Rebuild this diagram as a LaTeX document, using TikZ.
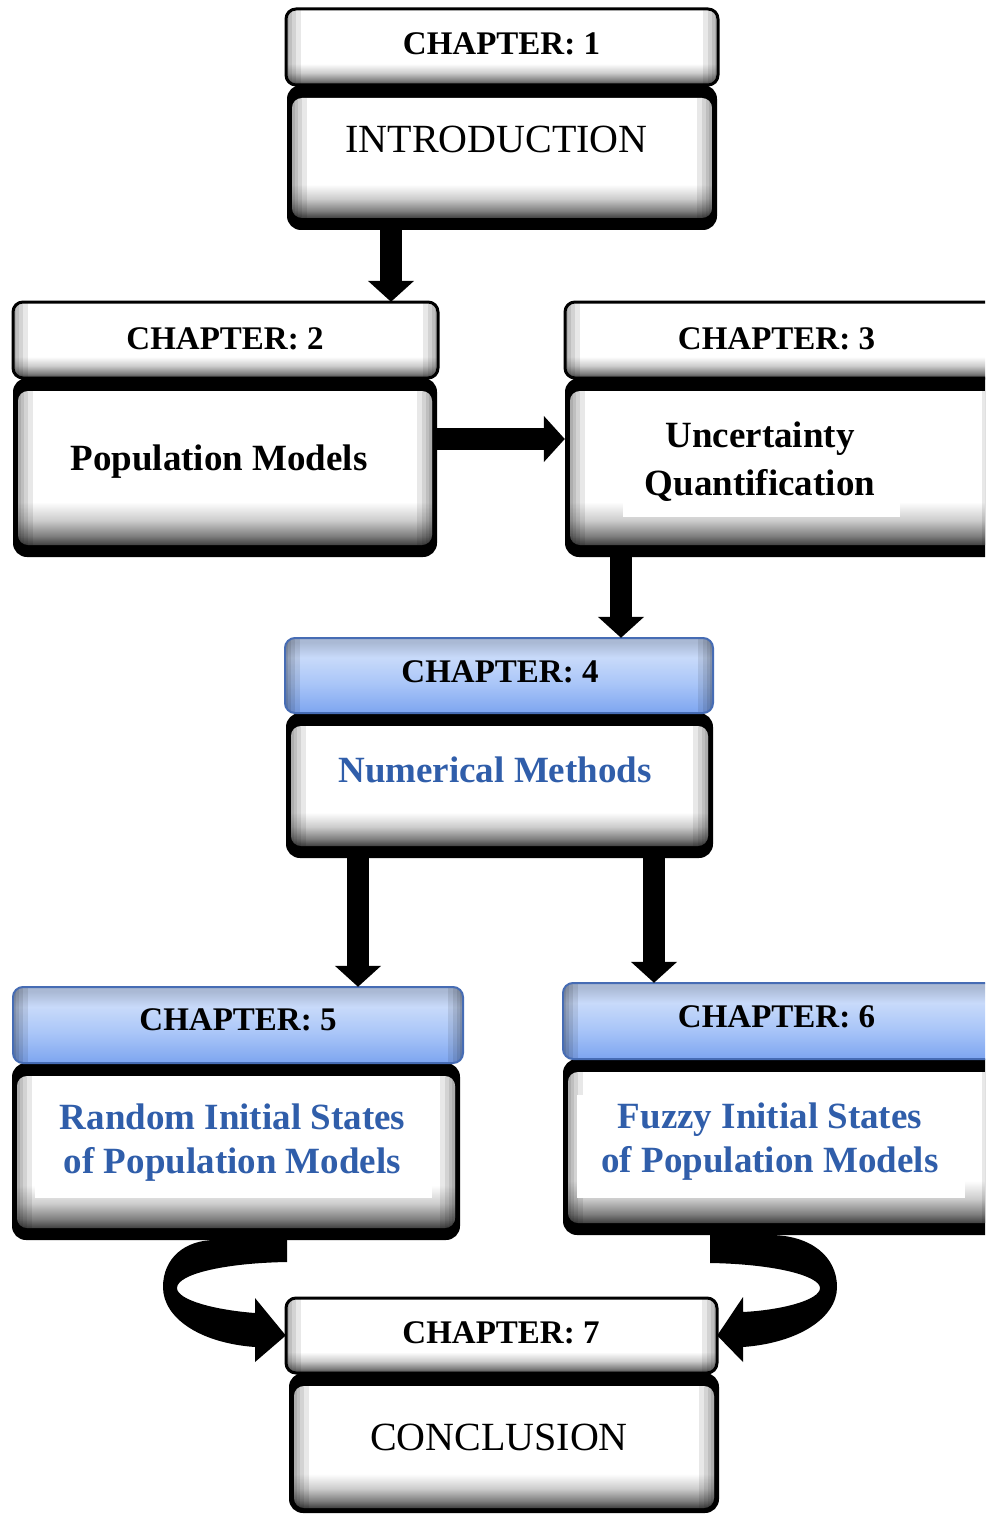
\documentclass[tikz,border=0pt]{standalone}
\usepackage{fontspec}
\setmainfont{Liberation Serif}
\usetikzlibrary{arrows.meta,fit}
\definecolor{bluetxt}{RGB}{48,94,170}
\definecolor{bluetop}{RGB}{200,218,250}
\definecolor{bluemid}{RGB}{170,198,248}
\definecolor{bluebot}{RGB}{125,165,240}
\definecolor{blueedge}{RGB}{70,108,180}
\pgfdeclareverticalshading{whiteshd}{100bp}{color(0bp)=(black!75); color(25bp)=(black!75); color(28bp)=(black!50); color(33bp)=(black!20); color(39bp)=(white); color(100bp)=(white)}
\pgfdeclareverticalshading{blueshd}{100bp}{color(0bp)=(bluebot); color(25bp)=(bluebot); color(45bp)=(bluemid); color(62bp)=(bluetop); color(72bp)=(bluetop!85!black); color(100bp)=(bluetop!85!black)}
\tikzset{
  chapfont/.style={font=\fontsize{33}{40}\selectfont\bfseries, anchor=base, inner sep=0pt},
  titlefont/.style={font=\fontsize{40}{48}\selectfont, anchor=base, inner sep=0pt},
  boldfont/.style={font=\fontsize{37}{48}\selectfont\bfseries, anchor=base, inner sep=0pt},
  bigarrow/.style={draw, line width=22pt, -{Triangle[width=45pt,length=21pt]}},
  boxfit/.style={inner sep=0pt, draw=none},
  edgestrip/.style={fill=black, opacity=.09},
}
\newcommand\SoftEdge[4]{%
  \begin{scope}
    \clip[rounded corners=10pt] (#1,#2) rectangle (#3,#4);
    \foreach \w in {3,6,10,15} {
      \path[edgestrip] (#1,#2) rectangle (#1+\w,#4);
      \path[edgestrip] (#3-\w,#2) rectangle (#3,#4);
    }
  \end{scope}}
\newcommand\WhiteHead[5]{%
  \shade[shading=whiteshd, rounded corners=10pt] (#2,#3) rectangle (#4,#5);
  \SoftEdge{#2}{#3}{#4}{#5}%
  \draw[line width=3pt, rounded corners=10pt] (#2,#3) rectangle (#4,#5);
  \node[boxfit, fit={(#2,#3) (#4,#5)}] (#1) {};}
\newcommand\BlueHead[5]{%
  \shade[shading=blueshd, rounded corners=10pt] (#2,#3) rectangle (#4,#5);
  \SoftEdge{#2}{#3}{#4}{#5}%
  \draw[blueedge, line width=2pt, rounded corners=10pt] (#2,#3) rectangle (#4,#5);
  \node[boxfit, fit={(#2,#3) (#4,#5)}] (#1) {};}
\newcommand\BodyBox[6][12]{%
  \fill[rounded corners=14pt] (#3,#4) rectangle (#5,#6);
  \shade[shading=whiteshd, rounded corners=10pt] (#3+5,#4+13) rectangle (#5-5,#6-#1);
  \SoftEdge{#3+5}{#4+13}{#5-5}{#6-#1}%
  \node[boxfit, fit={(#3,#4) (#5,#6)}] (#2) {};}
\begin{document}
\begin{tikzpicture}[x=1pt,y=-1pt]
\useasboundingbox (0,0) rectangle (985,1514);
\clip (0,0) rectangle (985,1514);
\fill[white] (0,0) rectangle (985,1514);

% Chapter 1
\BodyBox{b1}{287}{85}{717}{230}
\WhiteHead{h1}{286}{9}{718}{85}
\node[chapfont] (t1) at (501.5,55) {CHAPTER: 1};
\node[titlefont] (x1) at (496.5,153) {INTRODUCTION};

% Chapter 2
\BodyBox{b2}{13}{378}{437}{557}
\WhiteHead{h2}{13}{302}{438}{378}
\node[chapfont] (t2) at (225,349) {CHAPTER: 2};
\node[boldfont] (x2) at (219,470) {Population Models};

% Chapter 3
\BodyBox{b3}{565}{378}{1002}{557}
\WhiteHead{h3}{565}{302}{1002}{378}
\fill[white] (623,405) rectangle (900,517);
\node[chapfont] (t3) at (776.5,349) {CHAPTER: 3};
\node[boldfont] (x3) at (760,447) {\begin{tabular}[t]{@{}c@{}}Uncertainty\\Quantification\end{tabular}};

% Chapter 4
\BodyBox{b4}{286}{713}{713}{858}
\BlueHead{h4}{285}{638}{713}{713}
\node[chapfont] (t4) at (500,682) {CHAPTER: 4};
\node[boldfont, text=bluetxt] (x4) at (495,782) {Numerical Methods};

% Chapter 5
\BodyBox{b5}{12}{1063}{460}{1240}
\BlueHead{h5}{13}{987}{463}{1063}
\fill[white] (35,1095) rectangle (432,1198);
\node[chapfont] (t5) at (238,1030) {CHAPTER: 5};
\node[boldfont, text=bluetxt, font=\fontsize{37}{44}\selectfont\bfseries] (x5) at (232.5,1129) {\begin{tabular}[t]{@{}c@{}}Random Initial States\\of Population Models\end{tabular}};

% Chapter 6
\BodyBox{b6}{563}{1059}{1002}{1235}
\BlueHead{h6}{563}{983}{1002}{1059}
\fill[white] (577,1095) rectangle (965,1198);
\node[chapfont] (t6) at (776.5,1027) {CHAPTER: 6};
\node[boldfont, text=bluetxt, font=\fontsize{37}{44}\selectfont\bfseries] (x6) at (770,1128) {\begin{tabular}[t]{@{}c@{}}Fuzzy Initial States\\of Population Models\end{tabular}};

% Chapter 7
\BodyBox[5]{b7}{289}{1373}{719}{1513}
\WhiteHead{h7}{286}{1298}{717}{1373}
\node[chapfont] (t7) at (501,1343) {CHAPTER: 7};
\node[titlefont] (x7) at (499,1450) {CONCLUSION};

% straight arrows
\draw[bigarrow] (391,0 |- b1.south) -- (391,0 |- h2.north);
\draw[bigarrow] (b2.east |- 0,439) -- (b3.west |- 0,439);
\draw[bigarrow] (621,0 |- b3.south) -- (621,0 |- h4.north);
\draw[bigarrow] (358,0 |- b4.south) -- (358,0 |- h5.north);
\draw[bigarrow] (654,0 |- b4.south) -- (654,0 |- h6.north);

% curved arrows
\coordinate (l0) at (287,0 |- b5.south);
\fill (l0) -- (287,1262)
  .. controls (225,1263) and (177,1274) .. (177,1288)
  .. controls (177,1300) and (215,1310) .. (255,1313)
  -- (255,1298) -- (h7.west) -- (255,1362) -- (255,1347)
  .. controls (200,1343) and (163,1318) .. (163,1287)
  .. controls (163,1258) and (185,1240) .. (215,1240) -- cycle;
\coordinate (r0) at (710,0 |- b6.south);
\fill (r0) -- (710,1263)
  .. controls (775,1264) and (820,1276) .. (820,1288)
  .. controls (820,1300) and (782,1310) .. (743,1312)
  -- (743,1297) -- (h7.east) -- (743,1362) -- (743,1347)
  .. controls (798,1343) and (837,1318) .. (837,1287)
  .. controls (837,1256) and (810,1235) .. (770,1235) -- cycle;
\end{tikzpicture}
\end{document}
